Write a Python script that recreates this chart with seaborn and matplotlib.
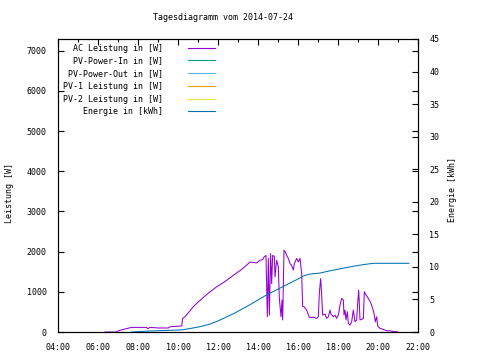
import pandas as pd
import matplotlib
matplotlib.use("Agg")
import matplotlib.pyplot as plt
import matplotlib.dates as mdates
from matplotlib.ticker import MultipleLocator
import seaborn as sns

# AC Leistung [W] over the day
ac_times = ["06:21", "06:56", "07:00", "07:16", "07:41", "08:26", "08:29", "08:36",
            "09:01", "09:31", "09:36", "10:11", "10:14", "10:21", "10:31", "10:46",
            "11:01", "11:30", "11:56", "12:20", "12:46", "13:10", "13:36", "13:56",
            "14:06", "14:14", "14:18", "14:24", "14:28", "14:31", "14:34", "14:38",
            "14:41", "14:44", "14:49", "14:51", "14:56", "15:01", "15:04", "15:09",
            "15:12", "15:14", "15:18", "15:22", "15:26", "15:31", "15:36", "15:41",
            "15:46", "15:49", "15:56", "16:01", "16:06", "16:11", "16:14", "16:18",
            "16:26", "16:34", "16:46", "16:56", "17:01", "17:04", "17:08", "17:11",
            "17:14", "17:21", "17:26", "17:31", "17:36", "17:39", "17:46", "17:51",
            "17:56", "18:01", "18:06", "18:11", "18:16", "18:18", "18:21", "18:24",
            "18:28", "18:31", "18:36", "18:41", "18:46", "18:51", "18:56", "18:59",
            "19:02", "19:04", "19:06", "19:11", "19:16", "19:19", "19:24", "19:28",
            "19:34", "19:39", "19:44", "19:48", "19:52", "19:56", "19:59", "20:06",
            "20:16", "20:26", "20:36", "20:46", "21:00"]
ac_power = [0, 0, 25, 65, 115, 115, 80, 115,
            100, 100, 130, 150, 340, 380, 480, 630,
            750, 960, 1125, 1250, 1410, 1550, 1740, 1720,
            1785, 1800, 1865, 1905, 380, 1830, 420, 1950,
            1205, 1905, 1885, 1370, 1785, 1620, 835, 380,
            795, 300, 2035, 1990, 1905, 1830, 1700, 1660,
            1540, 1700, 1830, 1745, 1830, 1455, 630, 630,
            545, 365, 365, 340, 380, 960, 1330, 920,
            420, 445, 340, 380, 545, 445, 380, 420,
            340, 420, 670, 835, 795, 420, 545, 300,
            505, 215, 175, 255, 545, 255, 300, 710,
            1040, 710, 300, 315, 340, 1000, 920, 875,
            795, 710, 585, 465, 255, 380, 150, 90,
            65, 30, 30, 15, 0]

# Energie [kWh] over the day
en_times = ["07:40", "08:35", "10:00", "10:15", "11:00", "11:35", "12:00", "12:46",
            "13:36", "14:26", "15:16", "16:06", "16:16", "16:36", "17:06", "17:36",
            "18:16", "18:46", "19:16", "19:46", "21:33"]
en_energy = [0.0, 0.15, 0.3, 0.35, 0.75, 1.2, 1.7, 2.8,
             4.2, 5.7, 7.0, 8.3, 8.6, 8.9, 9.05, 9.4,
             9.8, 10.1, 10.35, 10.55, 10.55]

day = "2014-07-24 "
ac = pd.DataFrame({"Zeit": pd.to_datetime([day + t for t in ac_times]), "Leistung": ac_power})
en = pd.DataFrame({"Zeit": pd.to_datetime([day + t for t in en_times]), "Energie": en_energy})

labels = ["AC Leistung in [W]", "PV-Power-In in [W]", "PV-Power-Out in [W]",
          "PV-1 Leistung in [W]", "PV-2 Leistung in [W]", "Energie in [kWh]"]
colors = ["#9400d3", "#009e73", "#56b4e9", "#e69f00", "#f0e442", "#0072b2"]

sns.set_style("white")
plt.rcParams["font.family"] = ["DejaVu Sans Mono"]
plt.rcParams["font.size"] = 6
plt.rcParams["text.color"] = "black"
plt.rcParams["axes.labelcolor"] = "black"
plt.rcParams["xtick.color"] = "black"
plt.rcParams["ytick.color"] = "black"

fig = plt.figure(figsize=(4.8, 3.6), dpi=100)
ax = fig.add_axes([58 / 480, 28 / 360, 360 / 480, 293 / 360])
ax2 = ax.twinx()

sns.lineplot(data=ac, x="Zeit", y="Leistung", ax=ax, color=colors[0], lw=0.75)
sns.lineplot(data=en, x="Zeit", y="Energie", ax=ax2, color=colors[5], lw=0.75)

# legend entries (the PV series carry no data on this day)
handles = [ax.plot([], [], color=c, lw=0.8)[0] for c in colors]
width = max(len(s) for s in labels)
leg = ax.legend(handles, [s.rjust(width) for s in labels], loc="upper left",
                frameon=False, markerfirst=False, handlelength=3.3,
                handletextpad=3.0, labelspacing=0.45, borderaxespad=0.15,
                borderpad=0.4, prop={"family": "DejaVu Sans Mono", "size": 6})

ax.set_xlim(pd.Timestamp(day + "04:00"), pd.Timestamp(day + "22:00"))
ax.set_ylim(0, 7290)
ax2.set_ylim(0, 45)
ax.xaxis.set_major_locator(mdates.HourLocator(interval=2))
ax.xaxis.set_minor_locator(mdates.HourLocator(interval=1))
ax.xaxis.set_major_formatter(mdates.DateFormatter("%H:%M"))
ax.yaxis.set_major_locator(MultipleLocator(1000))
ax2.yaxis.set_major_locator(MultipleLocator(5))

ax.tick_params(axis="x", which="both", direction="in", top=True, pad=8, labelsize=6)
ax.tick_params(axis="x", which="major", length=4, width=0.8)
ax.tick_params(axis="x", which="minor", length=2.5, width=0.8)
ax.tick_params(axis="y", direction="in", left=True, right=True, length=4, width=0.8, pad=8, labelsize=6)
ax2.tick_params(axis="y", direction="in", length=4, width=0.8, pad=8, labelsize=6)

ax.set_xlabel("")
ax.set_ylabel("Leistung [W]", fontsize=6)
ax.yaxis.set_label_coords(-0.122, 0.474)
ax2.set_ylabel("Energie [kWh]", fontsize=6)
ax2.yaxis.set_label_coords(1.083, 0.485)

for a in (ax, ax2):
    for sp in a.spines.values():
        sp.set_color("black")
        sp.set_linewidth(0.8)

fig.text(223 / 480, 1 - 18 / 360, "Tagesdiagramm vom 2014-07-24", ha="center", va="center", fontsize=6)

plt.savefig("out.png", dpi=100)
